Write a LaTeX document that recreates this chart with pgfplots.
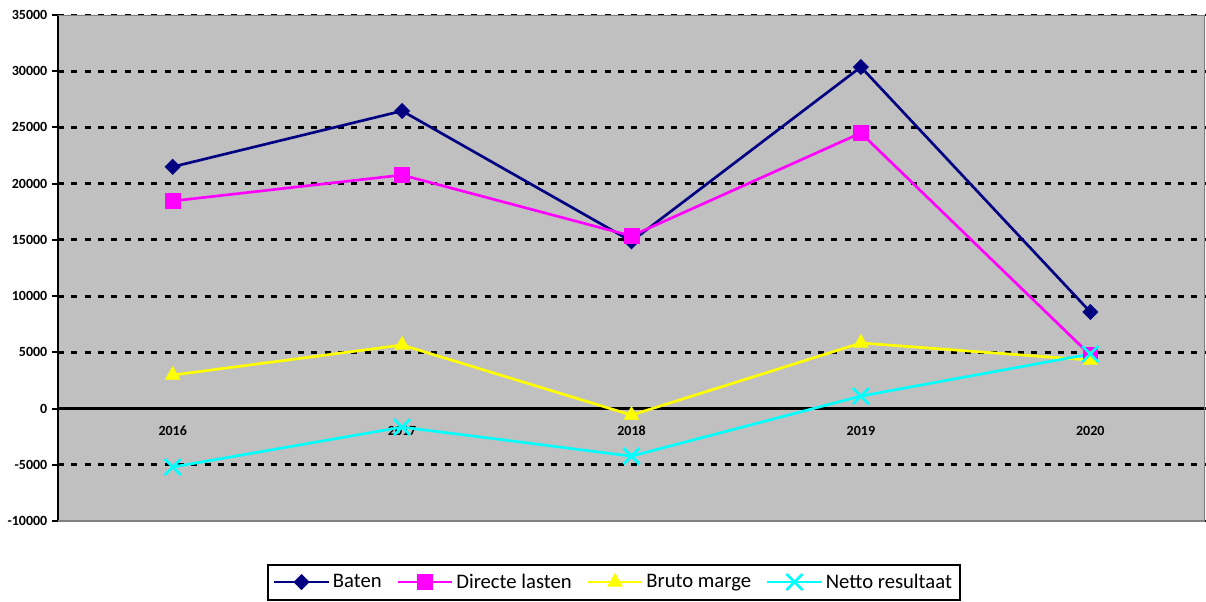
\documentclass[border=0pt]{standalone}
\usepackage{fontspec}
\setmainfont{Carlito}
\usepackage{pgfplots}
\pgfplotsset{compat=1.18}
\definecolor{bgray}{HTML}{C0C0C0}
\definecolor{cnavy}{HTML}{000080}
\definecolor{cmag}{HTML}{FF00FF}
\definecolor{cyel}{HTML}{FFFF00}
\definecolor{ccyan}{HTML}{00FFFF}
\begin{document}
\begin{tikzpicture}
\begin{axis}[
  at={(0,0)}, anchor=south west,
  width=860.25pt, height=379.5pt, scale only axis,
  xmin=-0.5, xmax=4.5, ymin=-10000, ymax=35000,
  axis x line*=middle, axis y line*=left,
  axis line style={black, line width=1.5pt},
  x axis line style={line width=1.6pt},
  y axis line style={line width=2pt},
  axis background/.style={fill=bgray},
  xtick={0,1,2,3,4},
  xticklabels={2016,2017,2018,2019,2020},
  major x tick style={draw=none},
  extra x ticks={0.5,1.5,2.5,3.5},
  extra x tick labels={},
  extra x tick style={major tick length=4.5pt, tick align=inside, tick style={black, line width=1.2pt, draw=black}},
  ytick distance=5000,
  scaled y ticks=false,
  tick align=outside,
  major tick length=4.5pt,
  y tick style={black, line width=1.5pt},
  ymajorgrids,
  major grid style={black, line width=2.1pt, dash pattern=on 4.5pt off 5.5pt},
  /pgf/number format/1000 sep={},
  /pgf/number format/assume math mode=true,
  tick label style={font=\bfseries\fontsize{10.5}{12}\selectfont},
  xticklabel style={yshift=-5pt},
  legend columns=4,
  legend style={at={(0.4845,-0.1206)}, anchor=center, draw=black, line width=1.5pt,
    font=\fontsize{15.5}{18}\selectfont, inner xsep=4pt, inner ysep=5pt,
    /tikz/every even column/.append style={column sep=9pt}},
  legend image code/.code={\draw[mark repeat=2,mark phase=2] plot coordinates {(0pt,0pt)(20.5pt,0pt)(41pt,0pt)};},
]
\draw[draw=gray, line width=1.2pt] (rel axis cs:0,1) -- (rel axis cs:1,1) -- (rel axis cs:1,0) -- (rel axis cs:0,0);
\addplot[cnavy, line width=2pt, mark=square*, mark size=4pt, mark options={solid, rotate=45, fill=cnavy, line width=0.5pt}]
  coordinates {(0,21500) (1,26470) (2,14880) (3,30380) (4,8590)};
\addlegendentry{Baten}
\addplot[cmag, line width=2pt, mark=square*, mark size=5.5pt, mark options={solid, fill=cmag, line width=0.5pt}]
  coordinates {(0,18460) (1,20770) (2,15350) (3,24510) (4,4760)};
\addlegendentry{Directe lasten}
\addplot[cyel, line width=2pt, mark=triangle*, mark size=6.3pt, mark options={solid, fill=cyel, line width=0.5pt}]
  coordinates {(0,2980) (1,5650) (2,-580) (3,5830) (4,4310)};
\addlegendentry{Bruto marge}
\addplot[ccyan, line width=2pt, mark=x, mark size=8.5pt, mark options={solid, line width=2pt}]
  coordinates {(0,-5200) (1,-1650) (2,-4230) (3,1110) (4,4850)};
\addlegendentry{Netto resultaat}
\end{axis}
\pgfresetboundingbox
\path[use as bounding box] (-43.5pt,-60pt) rectangle (861pt,390.75pt);
\end{tikzpicture}
\end{document}
